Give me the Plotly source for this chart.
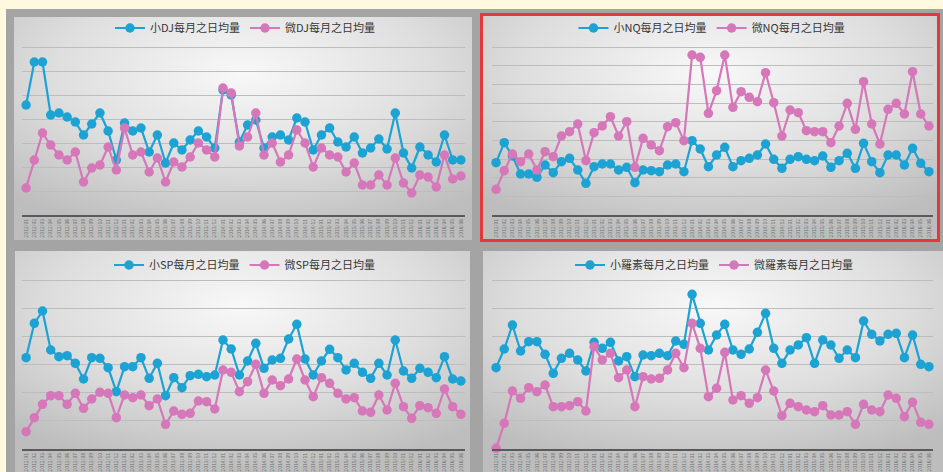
import base64
import plotly.graph_objects as go

# ---- data (54 months) ----
months = [f"{2012 + i // 12}/{i % 12 + 1:02d}" for i in range(54)]

dj_small = [330, 459, 459, 300, 306, 294, 279, 240, 273, 306,
            252, 165, 276, 252, 261, 189, 240, 156, 216, 195,
            225, 252, 234, 201, 375, 360, 219, 270, 285, 201,
            234, 240, 225, 291, 279, 195, 240, 261, 219, 204,
            234, 186, 201, 228, 198, 306, 186, 141, 204, 180,
            159, 240, 165, 165]
dj_micro = [81, 165, 246, 210, 180, 165, 189, 99, 141, 150,
            204, 135, 261, 180, 189, 129, 171, 99, 159, 144,
            174, 216, 195, 174, 381, 366, 207, 234, 306, 180,
            216, 159, 180, 255, 216, 144, 201, 180, 174, 129,
            156, 90, 90, 120, 90, 171, 96, 66, 120, 114,
            84, 180, 108, 117]

nq_small = [157, 217, 177, 123, 123, 113, 150, 127, 160, 170,
            135, 95, 145, 153, 153, 135, 143, 97, 135, 133,
            130, 150, 153, 130, 223, 198, 145, 180, 203, 145,
            163, 170, 180, 213, 167, 140, 167, 175, 167, 163,
            177, 143, 163, 185, 140, 215, 160, 127, 180, 180,
            150, 200, 155, 130]
nq_micro = [77, 133, 183, 160, 183, 135, 190, 175, 237, 250,
            273, 163, 247, 267, 295, 237, 280, 143, 230, 210,
            193, 265, 277, 223, 480, 473, 305, 373, 480, 323,
            370, 353, 340, 427, 337, 237, 315, 307, 253, 250,
            250, 217, 267, 335, 257, 400, 273, 213, 317, 335,
            303, 430, 303, 267]

sp_small = [274, 377, 414, 297, 277, 280, 257, 210, 274, 272,
            244, 172, 247, 247, 274, 212, 257, 160, 214, 184,
            220, 224, 217, 222, 327, 300, 222, 264, 317, 242,
            267, 272, 330, 374, 270, 222, 264, 299, 274, 237,
            257, 230, 212, 257, 222, 327, 234, 212, 242, 230,
            214, 277, 210, 204]
sp_micro = [52, 94, 134, 160, 160, 134, 167, 122, 150, 170,
            167, 94, 162, 154, 162, 130, 150, 74, 114, 104,
            107, 144, 142, 120, 237, 230, 172, 202, 254, 167,
            207, 190, 210, 270, 207, 157, 214, 197, 167, 150,
            154, 114, 110, 162, 117, 197, 127, 92, 130, 124,
            107, 180, 127, 104]

rs_small = [244, 300, 372, 294, 322, 322, 284, 227, 272, 287,
            267, 234, 320, 302, 320, 264, 277, 217, 282, 280,
            287, 280, 324, 314, 464, 377, 297, 342, 374, 297,
            284, 300, 350, 407, 302, 257, 297, 312, 334, 257,
            327, 312, 272, 297, 274, 384, 344, 324, 344, 347,
            274, 342, 254, 247]
rs_micro = [2, 77, 174, 152, 184, 172, 192, 127, 127, 130,
            142, 114, 307, 267, 287, 214, 237, 127, 217, 210,
            212, 237, 287, 244, 377, 302, 157, 182, 290, 147,
            160, 137, 154, 237, 174, 100, 137, 127, 117, 112,
            130, 102, 102, 112, 74, 134, 117, 112, 162, 152,
            97, 140, 80, 74]

names = [("小DJ每月之日均量", "微DJ每月之日均量"),
         ("小NQ每月之日均量", "微NQ每月之日均量"),
         ("小SP每月之日均量", "微SP每月之日均量"),
         ("小羅素每月之日均量", "微羅素每月之日均量")]
series = [(dj_small, dj_micro), (nq_small, nq_micro),
          (sp_small, sp_micro), (rs_small, rs_micro)]

# ---- layout geometry ----
W, H = 943, 472
BLUE = "#1CA3D4"
PINK = "#D677BA"
FONT = "Noto Sans CJK TC"

def px(x):
    return x / W

def py(y):
    return 1 - y / H

panels = [
    dict(x=(22, 465), y=(43, 215), ymax=516, dtick=72, leg=(245, 28)),
    dict(x=(492, 933), y=(43, 215), ymax=516, dtick=56, leg=(712, 28)),
    dict(x=(22, 465), y=(278, 449), ymax=513, dtick=84.5, leg=(245, 265)),
    dict(x=(492, 933), y=(278, 449), ymax=513, dtick=84.5, leg=(714, 265)),
]

svg = f'''<svg xmlns="http://www.w3.org/2000/svg" width="{W}" height="{H}" viewBox="0 0 {W} {H}" preserveAspectRatio="none">
<defs><radialGradient id="g" cx="50%" cy="25%" r="75%">
<stop offset="0" stop-color="#f8f8f8"/><stop offset="0.55" stop-color="#dedede"/><stop offset="1" stop-color="#bdbdbd"/>
</radialGradient></defs>
<rect width="{W}" height="{H}" fill="#FFFADF"/>
<rect x="6" y="9" width="937" height="463" fill="#A4A4A4"/>
<rect x="14" y="17" width="458" height="223" fill="url(#g)"/>
<rect x="483" y="16" width="454" height="224" fill="url(#g)"/>
<rect x="481.5" y="14.5" width="457" height="226" fill="none" stroke="#E5383B" stroke-width="3"/>
<rect x="15" y="251" width="455" height="221" fill="url(#g)"/>
<rect x="483" y="251" width="460" height="221" fill="url(#g)"/>
</svg>'''
uri = "data:image/svg+xml;base64," + base64.b64encode(svg.encode()).decode()

fig = go.Figure()
xs = list(range(len(months)))
layout = dict(
    width=W, height=H, margin=dict(l=0, r=0, t=0, b=0),
    paper_bgcolor="#FFFADF", plot_bgcolor="rgba(0,0,0,0)",
    font=dict(family=FONT, color="#444444"),
    images=[dict(source=uri, xref="paper", yref="paper", x=0, y=1,
                 sizex=1, sizey=1, xanchor="left", yanchor="top",
                 sizing="stretch", layer="below")],
)

for k, (p, (sm, mi), (n1, n2)) in enumerate(zip(panels, series, names), start=1):
    sfx = "" if k == 1 else str(k)
    leg = "legend" if k == 1 else f"legend{k}"
    for vals, nm, col in ((sm, n1, BLUE), (mi, n2, PINK)):
        fig.add_trace(go.Scatter(
            x=xs, y=vals, name=nm, mode="lines+markers",
            line=dict(color=col, width=2.2),
            marker=dict(color=col, size=9.5),
            xaxis="x" + sfx, yaxis="y" + sfx, legend=leg,
            cliponaxis=False, hoverinfo="skip"))
    layout["xaxis" + sfx] = dict(
        domain=[px(p["x"][0]), px(p["x"][1])], anchor="y" + sfx,
        range=[-0.5, len(months) - 0.5], tickvals=xs, ticktext=months,
        tickangle=-90, tickfont=dict(size=5, color="#707070"),
        showgrid=False, zeroline=False, showline=True,
        linecolor="#5a5a5a", linewidth=2, ticks="")
    layout["yaxis" + sfx] = dict(
        domain=[py(p["y"][1]), py(p["y"][0])], anchor="x" + sfx,
        range=[0, p["ymax"]], dtick=p["dtick"], tick0=0,
        showticklabels=False, showgrid=True, gridcolor="#bdbdbd",
        gridwidth=1, zeroline=False, showline=False)
    layout[leg] = dict(
        x=px(p["leg"][0]), y=py(p["leg"][1]), xanchor="center", yanchor="middle",
        orientation="h", bgcolor="rgba(0,0,0,0)",
        font=dict(size=11, color="#363636", family=FONT),
        itemwidth=30, tracegroupgap=0)

fig.update_layout(**layout)
fig.write_html("out.html")
